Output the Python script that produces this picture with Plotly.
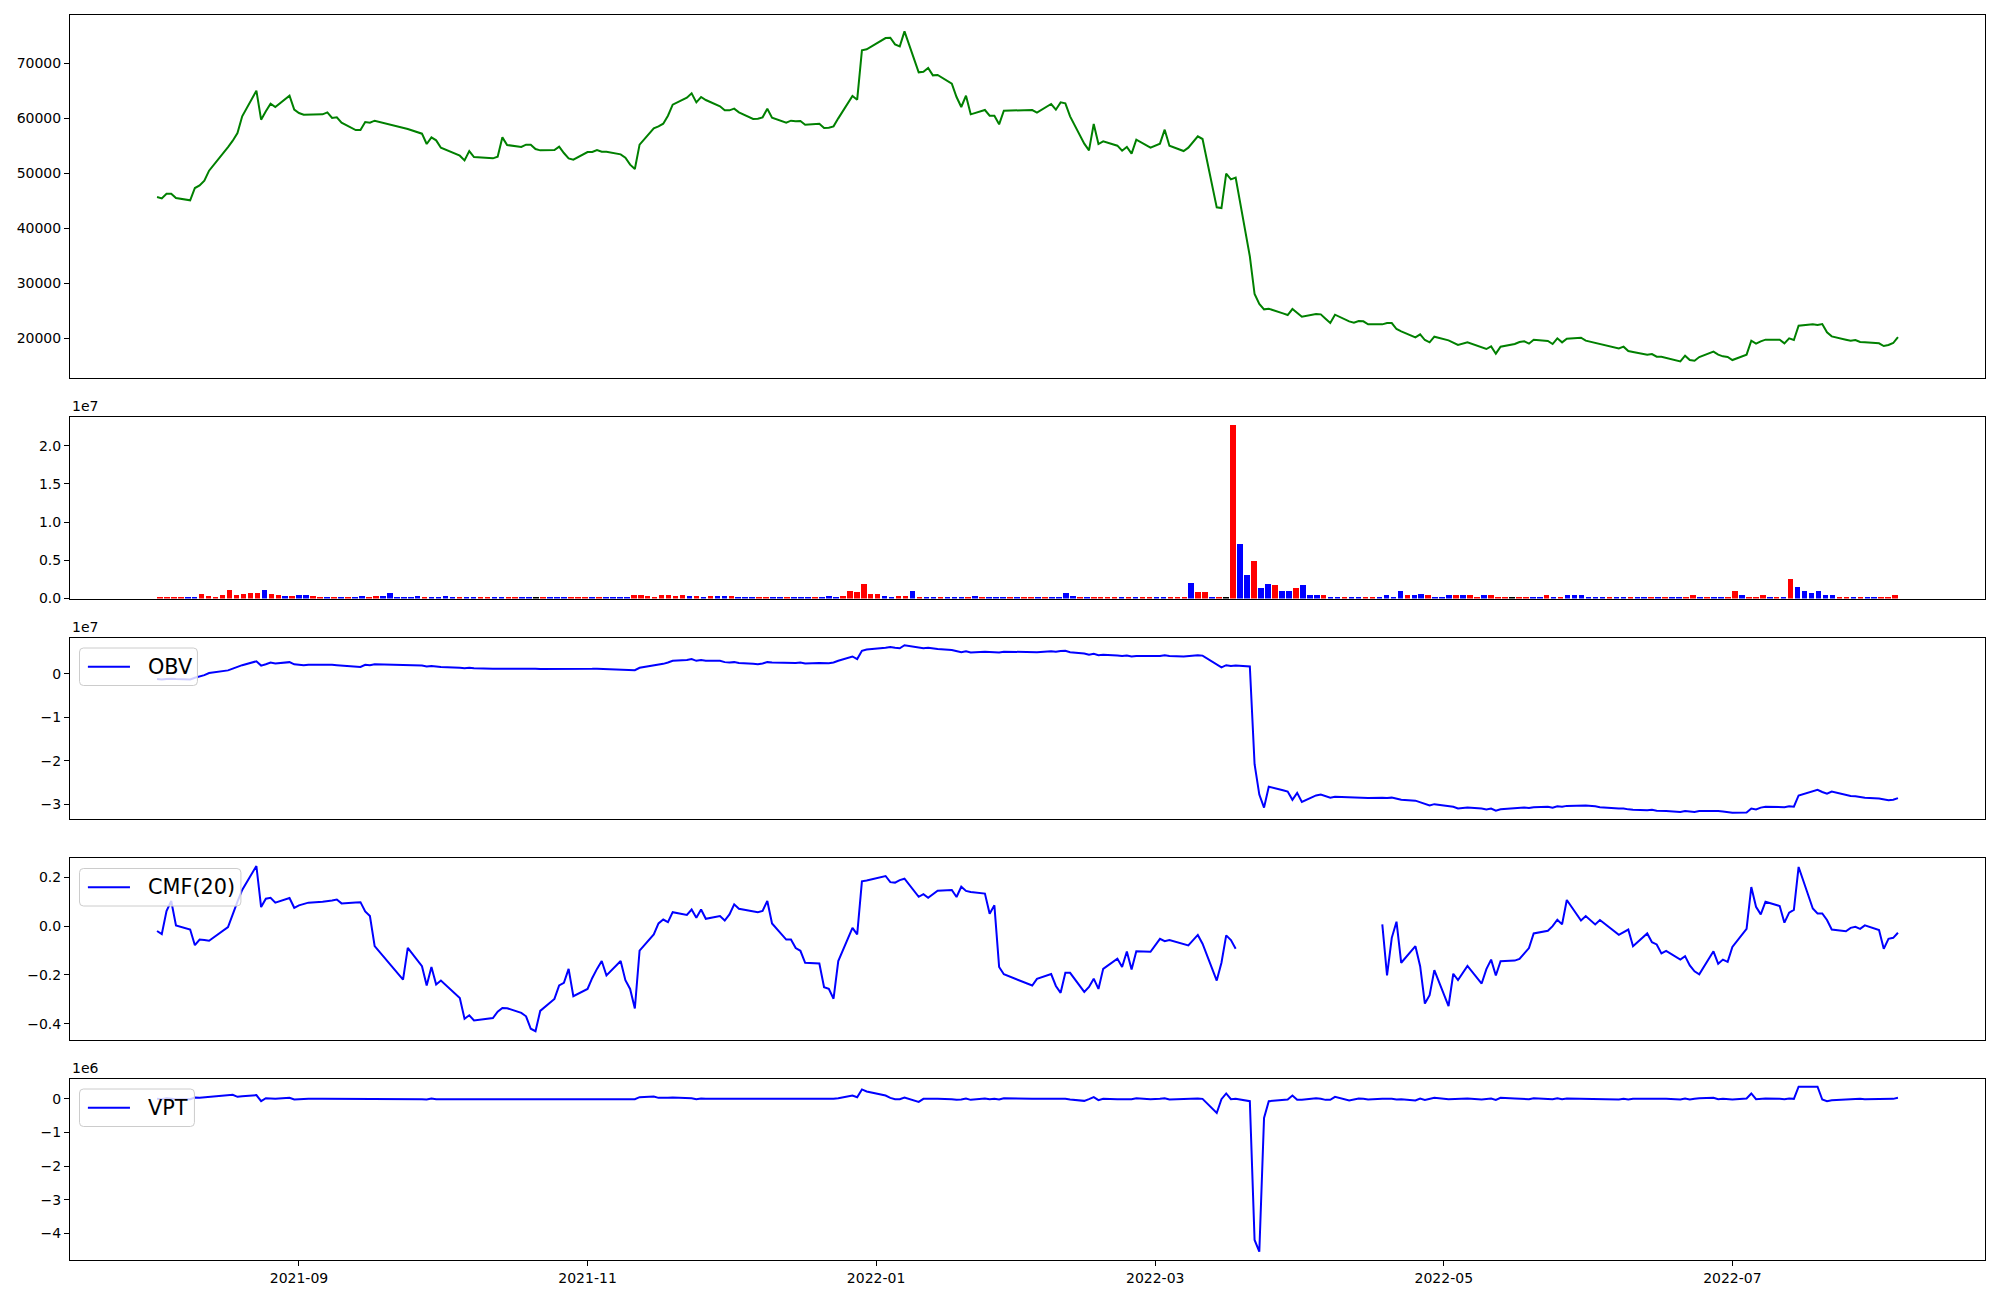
import pandas as pd
import plotly.graph_objects as go

# ---------------- data ----------------
holidays = ['2021-08-16', '2021-09-20', '2021-09-21', '2021-09-22', '2021-10-04', '2021-10-11',
            '2021-12-31', '2022-01-31', '2022-02-01', '2022-02-02', '2022-03-01', '2022-03-09',
            '2022-05-05', '2022-06-01', '2022-06-06']
dates = [d.strftime('%Y-%m-%d') for d in pd.bdate_range('2021-08-02', '2022-08-05')
         if d.strftime('%Y-%m-%d') not in holidays]

close = [
    45636, 45394, 46242, 46242, 45455, 45030, 47273, 47758, 48606, 50424, 54727, 55879, 57273, 60303, 64970, 59697, 61212, 62606, 62000, 64061, 61515,
    60909, 60606, 60606, 60667, 61030, 60000, 60121, 59152, 57818, 57818, 59273, 59152, 59515, 58242, 58000, 57152, 55273, 56485, 55939,
    54606, 53152, 52303, 54000, 52909, 52667, 52970, 56485, 55091, 54727, 55152, 55152, 54364, 54121, 54182, 54788, 53636, 52667, 52424,
    53818, 53818, 54182, 53879, 53879, 53394, 52788, 51515, 50727, 55152, 58121, 58485, 58970, 60424, 62424, 63697, 64485, 62848, 63818, 63273, 62121, 61394,
    61394, 61697, 61030, 59818, 59879, 60121, 61697, 60061, 59152, 59515, 59394, 59455, 58788, 58970, 58182, 58242, 58485, 59939, 64000, 63333, 72303, 72485,
    74545, 74606, 73394, 73030, 75758, 68303, 68424, 69091, 67758, 67818, 66242, 63818, 62000, 64061, 60667, 61455, 60424, 60424, 58848, 61333,
    61455, 60970, 62545, 61515, 62848, 62667, 60303, 55333, 54121, 58909, 55273, 55758, 54970, 54061, 54727, 53515, 56061, 54606,
    55333, 57879, 54970, 54000, 54606, 56667, 56182, 43758, 43636, 49879, 48848, 49152, 34848, 28000, 26182, 25212, 25333, 24485, 24182, 25273, 24606,
    23879, 24364, 24303, 23515, 22727, 24242, 23030, 22788, 23091, 23030, 22485, 22485, 22727, 22727, 21636, 21212, 20121, 20667, 19636, 19212, 20242,
    19576, 19152, 18727, 19212, 18364, 18000, 18485, 17152, 18424, 18909, 19273, 19394, 18970, 19697, 19455, 18909, 19939, 19212, 19879, 20061, 19515,
    19091, 18848, 18121, 18424, 17636, 17455, 16970, 17091, 16606, 16606, 16364, 15758, 16788, 16000, 15879, 16545, 17515, 16970, 16667, 16545,
    16000, 16970, 19515, 18970, 19394, 19697, 19697, 19030, 19939, 19636, 22242, 22485, 22364, 22545, 21030, 20303, 19697, 19515, 19636, 19273, 19212,
    19030, 18545, 18727, 19091, 20182,
]

# volume in millions of shares, one bar per trading day
volume_m = [
    .17, .17, .17, .17, .17, .17, .57, .30, .17, .44,
    1.09, .44, .57, .70, .70, 1.09, .57, .44, .30, .30,
    .44, .44, .30, .17, .17, .17, .17, .17, .17, .30,
    .17, .30, .30, .70, .17, .17, .17, .30, .17, .17,
    .17, .30, .17, .17, .17, .17, .17, .17, .17, .17,
    .17, .17, .17, .17, .17, .17, .17, .17, .17, .17,
    .17, .17, .17, .17, .17, .17, .17, .17, .44, .44,
    .30, .17, .44, .44, .30, .44, .30, .30, .17, .30,
    .30, .30, .30, .17, .26, .13, .13, .26, .13, .13,
    .13, .26, .13, .26, .26, .13, .39, .26, .39, .96,
    .83, 1.87, .57, .57, .39, .26, .39, .39, .96, .26,
    .26, .26, .13, .26, .26, .26, .13, .39, .26, .13,
    .13, .26, .13, .26, .13, .13, .13, .13, .26, .13,
    .70, .39, .26, .26, .13, .13, .13, .13, .26, .13,
    .13, .13, .13, .26, .13, .13, .26, .13, 2.0, .83,
    .83, .26, .26, .26, 22.66, 7.10, 3.05, 4.88, 1.35, 1.87,
    1.74, .96, .96, 1.35, 1.74, .44, .44, .44, .26, .26,
    .13, .13, .13, .13, .13, .13, .44, .13, .96, .44,
    .44, .57, .44, .26, .26, .44, .44, .44, .44, .26,
    .44, .44, .26, .13, .13, .26, .26, .26, .13, .44,
    .26, .26, .44, .44, .44, .13, .26, .13, .26, .13,
    .26, .26, .26, .13, .13, .26, .26, .13, .26, .13,
    .44, .13, .13, .13, .13, .26, .96, .44, .26, .13,
    .44, .26, .26, .13, 2.53, 1.48, .96, .70, .96, .44,
    .44, .26, .26, .26, .26, .26, .26, .13, .13, .44,
]

# bar colour per day: r = up candle, b = down candle, k = unchanged
bar_dir = ("rrrrbbrrrr" "rrrrrbrrbr" "bbrrbrbrbb" "rrbbbbbbrb" "bbbrbbrrbb"
           "rrbbkrbbbr" "rrbrbbbbrr" "rrrrrrbrbr" "bbrbbbrrbb" "rbbbrbbbrr"
           "rrrrbbrrbr" "bbrbbbrbrb" "bbrbrrbrbb" "bbrbrrrrbr" "brrbbrrrbr"
           "rbrkrbbrbb" "rbbrbbbrbb" "rbbrrbbbbr" "bbrbbbrbrr" "brrrkrrbbr"
           "brbbbbbbrb" "brbbrbrbbr" "rbrbbrrbrr" "rbrbrbbbbb" "brrbrbbrrr")

# OBV in units of 1e7
obv_e7 = [
    -0.12, -0.13, -0.12, -0.11, -0.12, -0.13, -0.09, -0.06, -0.03, 0.02, 0.08, 0.12, 0.16, 0.20, 0.29, 0.19, 0.22, 0.26, 0.24, 0.27, 0.22,
    0.21, 0.20, 0.21, 0.22, 0.22, 0.21, 0.20, 0.19, 0.17, 0.16, 0.21, 0.20, 0.22, 0.21, 0.20, 0.19, 0.17, 0.18, 0.17,
    0.16, 0.14, 0.13, 0.14, 0.13, 0.12, 0.12, 0.13, 0.12, 0.12, 0.125, 0.12, 0.115, 0.11, 0.11, 0.115, 0.11, 0.10, 0.10,
    0.11, 0.115, 0.12, 0.115, 0.11, 0.10, 0.095, 0.09, 0.085, 0.14, 0.19, 0.21, 0.23, 0.26, 0.30, 0.32, 0.34, 0.30, 0.32, 0.30, 0.30, 0.27,
    0.26, 0.27, 0.25, 0.23, 0.22, 0.24, 0.27, 0.26, 0.25, 0.26, 0.25, 0.26, 0.24, 0.25, 0.24, 0.245, 0.26, 0.30, 0.40, 0.34, 0.53, 0.56,
    0.60, 0.62, 0.60, 0.59, 0.66, 0.60, 0.59, 0.60, 0.58, 0.57, 0.55, 0.52, 0.50, 0.52, 0.49, 0.51, 0.50, 0.505, 0.49, 0.51,
    0.51, 0.50, 0.52, 0.51, 0.525, 0.53, 0.50, 0.47, 0.44, 0.46, 0.43, 0.44, 0.42, 0.41, 0.42, 0.40, 0.41, 0.40,
    0.41, 0.43, 0.41, 0.40, 0.41, 0.43, 0.42, 0.22, 0.15, 0.20, 0.18, 0.19, 0.17, -2.08, -2.78, -3.08, -2.60, -2.68, -2.71, -2.90, -2.74,
    -2.95, -2.80, -2.78, -2.82, -2.85, -2.83, -2.84, -2.86, -2.85, -2.85, -2.86, -2.85, -2.86, -2.85, -2.88, -2.90, -2.92, -2.96, -2.99, -3.03, -3.00,
    -3.04, -3.06, -3.10, -3.08, -3.10, -3.12, -3.10, -3.15, -3.12, -3.09, -3.08, -3.08, -3.09, -3.07, -3.06, -3.08, -3.05, -3.06, -3.04, -3.02, -3.03,
    -3.05, -3.07, -3.10, -3.10, -3.12, -3.13, -3.14, -3.13, -3.15, -3.15, -3.16, -3.18, -3.16, -3.17, -3.18, -3.16, -3.15, -3.16, -3.17, -3.18,
    -3.20, -3.19, -3.10, -3.12, -3.08, -3.06, -3.06, -3.07, -3.05, -3.06, -2.80, -2.71, -2.67, -2.72, -2.76, -2.71, -2.79, -2.81, -2.82, -2.84, -2.85,
    -2.87, -2.89, -2.91, -2.90, -2.86,
]

cmf20 = [
    -0.02, -0.033, 0.062, 0.103, 0.003, -0.014, -0.078, -0.055, -0.057, -0.06, -0.004, 0.05, 0.10, 0.148, 0.246, 0.078, 0.112, 0.116, 0.096, 0.115, 0.075,
    0.085, 0.09, 0.096, 0.10, 0.101, 0.105, 0.109, 0.093, 0.097, 0.098, 0.06, 0.041, -0.082, -0.219, -0.089, -0.164, -0.243, -0.167, -0.239,
    -0.223, -0.294, -0.379, -0.365, -0.386, -0.376, -0.35, -0.335, -0.336, -0.355, -0.369, -0.42, -0.43, -0.347, -0.298, -0.243, -0.232, -0.175, -0.287,
    -0.257, -0.212, -0.175, -0.143, -0.202, -0.143, -0.221, -0.257, -0.337, -0.10, -0.034, 0.011, 0.027, 0.016, 0.057, 0.046, 0.068, 0.034, 0.068, 0.030, 0.041, 0.023,
    0.048, 0.089, 0.071, 0.060, 0.057, 0.062, 0.103, 0.011, -0.055, -0.055, -0.09, -0.101, -0.15, -0.153, -0.25, -0.257, -0.297, -0.143, -0.007, -0.034, 0.183, 0.187,
    0.205, 0.18, 0.178, 0.188, 0.194, 0.12, 0.131, 0.116, 0.13, 0.145, 0.148, 0.119, 0.161, 0.144, 0.14, 0.133, 0.051, 0.085, -0.167, -0.197,
    -0.243, -0.216, -0.196, -0.245, -0.273, -0.191, -0.191, -0.269, -0.249, -0.215, -0.257, -0.175, -0.133, -0.167, -0.104, -0.178, -0.103, -0.105,
    -0.052, -0.062, -0.057, -0.075, -0.079, -0.036, -0.072, -0.223, -0.15, -0.038, -0.057, -0.093,
    None, None, None, None, None, None, None, None, None, None,
    None, None, None, None, None, None, None, None, None, None,
    0.007, -0.202, -0.048, 0.018, -0.15, -0.082, -0.164, -0.317, -0.283, -0.18,
    -0.327, -0.195, -0.221, -0.163, -0.235, -0.176, -0.137, -0.202, -0.144, -0.141, -0.134, -0.11, -0.09, -0.03, -0.019, 0.0, 0.026, 0.007, 0.107, 0.023, 0.041,
    0.007, 0.025, -0.036, -0.025, -0.014, -0.082, -0.03, -0.066, -0.075, -0.112, -0.101, -0.137, -0.123, -0.161, -0.185, -0.197, -0.103, -0.154, -0.137, -0.146,
    -0.085, -0.011, 0.16, 0.079, 0.048, 0.10, 0.082, 0.014, 0.055, 0.066, 0.242, 0.072, 0.052, 0.052, 0.025, -0.014, -0.021, -0.007, -0.003, -0.011, 0.003,
    -0.016, -0.093, -0.052, -0.048, -0.027,
]

# VPT in units of 1e6
vpt_e6 = [
    0.0, -0.01, 0.02, 0.0, -0.01, -0.01, 0.04, 0.03, 0.04, 0.06, 0.09, 0.12, 0.06, 0.08, 0.11, -0.07, 0.02, 0.02, 0.0, 0.03, -0.02,
    -0.01, 0.0, 0.0, 0.0, 0.0, -0.01, 0.0, -0.01, -0.01, 0.0, 0.01, 0.0, 0.0, -0.01, 0.0, -0.01, -0.02, 0.01, -0.01,
    -0.01, -0.01, -0.01, 0.01, -0.01, 0.0, 0.0, 0.01, 0.0, 0.0, 0.0, 0.0, 0.0, 0.0, 0.0, 0.0, 0.0, -0.01, 0.0,
    0.0, 0.0, 0.0, 0.0, 0.0, 0.0, -0.01, -0.01, -0.01, 0.05, 0.07, 0.03, 0.02, 0.03, 0.04, 0.02, 0.02, -0.01, 0.01, 0.0, 0.0, -0.01,
    0.0, 0.0, 0.0, -0.01, 0.0, 0.0, 0.01, -0.01, 0.0, 0.0, 0.0, 0.0, 0.0, 0.0, -0.01, 0.0, 0.0, 0.02, 0.10, 0.05, 0.28, 0.22,
    0.10, 0.03, -0.01, -0.01, 0.04, -0.09, 0.0, 0.0, -0.01, 0.0, -0.01, -0.03, -0.02, 0.01, -0.03, 0.01, -0.01, 0.0, -0.02, 0.02,
    0.0, 0.0, 0.01, 0.0, 0.01, 0.0, -0.02, -0.06, -0.01, 0.05, -0.04, 0.0, -0.01, -0.01, 0.0, -0.01, 0.02, -0.01,
    0.0, 0.02, -0.02, 0.0, 0.0, 0.01, 0.0, -0.42, -0.01, 0.16, -0.01, 0.0, -0.07, -4.2, -4.55, -0.57, -0.07, -0.03, -0.02, 0.1, -0.03,
    -0.03, 0.02, 0.0, -0.03, -0.03, 0.06, -0.05, -0.01, 0.01, 0.0, -0.02, 0.0, 0.01, 0.0, -0.02, -0.01, -0.05, 0.01, -0.03, -0.01, 0.03,
    -0.01, -0.01, -0.01, 0.01, -0.02, -0.01, 0.01, -0.03, 0.03, 0.01, 0.01, 0.0, -0.01, 0.02, 0.0, -0.01, 0.02, -0.01, 0.01, 0.0, -0.01,
    -0.01, 0.0, -0.02, 0.0, -0.02, 0.0, -0.01, 0.0, -0.01, 0.0, 0.0, -0.02, 0.01, -0.02, 0.0, 0.02, 0.03, -0.01, 0.0, 0.0,
    -0.02, 0.01, 0.16, -0.01, 0.01, 0.01, 0.0, -0.01, 0.01, 0.0, 0.36, 0.36, 0.36, -0.02, -0.07, -0.04, -0.02, -0.01, 0.0, 0.0, -0.01,
    0.0, 0.0, 0.0, 0.0, 0.03,
]

x_tick_dates = ['2021-09-01', '2021-11-01', '2022-01-01', '2022-03-01', '2022-05-01', '2022-07-01']
x_tick_text = ['2021-09', '2021-11', '2022-01', '2022-03', '2022-05', '2022-07']

n = len(dates)
for arr in (close, volume_m, obv_e7, cmf20, vpt_e6):
    assert len(arr) == n, (len(arr), n)
assert len(bar_dir) == n

# ---------------- layout geometry ----------------
# the page body has an 8px margin, so the figure is 8px smaller than the window
BODY = 8
W, H = 2000 - BODY, 1300 - BODY
PL, PR, PT, PB = 69.5, 1985.5, 15, 1260          # plot area in window pixels
ML, MR, MT, MB = PL - BODY, W - (PR - BODY), PT - BODY, H - (PB - BODY)
plot_w, plot_h = PR - PL, PB - PT
panels = [(15, 378), (417, 598.5), (637.5, 819), (858, 1039.5), (1078.5, 1260)]


def py2paper(py):
    return (PB - py) / plot_h


def px2paper(px):
    return (px - PL) / plot_w


def dom(top, bot):
    return [py2paper(bot), py2paper(top)]


FONT = 'DejaVu Sans'
tickfont = dict(family=FONT, size=14, color='black')

d0 = pd.Timestamp(dates[0])
d1 = pd.Timestamp(dates[-1])
pad = (d1 - d0) * 0.05
xrange_dates = [(d0 - pad).strftime('%Y-%m-%d %H:%M'), (d1 + pad).strftime('%Y-%m-%d %H:%M')]
bar_pad = (n - 1 + 0.8) * 0.05
xrange_bars = [-0.4 - bar_pad, n - 1 + 0.4 + bar_pad]

colmap = {'r': 'red', 'b': 'blue', 'k': 'black'}
bar_colors = [colmap[c] for c in bar_dir]

fig = go.Figure()
fig.add_trace(go.Scatter(x=dates, y=close, mode='lines', line=dict(color='green', width=2),
                         xaxis='x', yaxis='y', showlegend=False, name='Close'))
fig.add_trace(go.Bar(x=list(range(n)), y=[v * 1e6 for v in volume_m],
                     marker=dict(color=bar_colors, line=dict(width=0)),
                     width=0.8, xaxis='x2', yaxis='y2', showlegend=False, name='Volume'))
fig.add_trace(go.Scatter(x=dates, y=[v * 1e7 for v in obv_e7], mode='lines', line=dict(color='blue', width=2),
                         xaxis='x3', yaxis='y3', name='OBV', showlegend=False))
fig.add_trace(go.Scatter(x=dates, y=cmf20, mode='lines', line=dict(color='blue', width=2), connectgaps=False,
                         xaxis='x4', yaxis='y4', name='CMF(20)', showlegend=False))
fig.add_trace(go.Scatter(x=dates, y=[v * 1e6 for v in vpt_e6], mode='lines', line=dict(color='blue', width=2),
                         xaxis='x5', yaxis='y5', name='VPT', showlegend=False))

axis_common = dict(showline=True, linecolor='black', linewidth=1, mirror=True, showgrid=False,
                   zeroline=False, automargin=False, tickfont=tickfont)
ytick_common = dict(ticks='outside', ticklen=5, tickwidth=1, tickcolor='black')

layout = dict(
    width=W, height=H, margin=dict(l=ML, r=MR, t=MT, b=MB, pad=0),
    paper_bgcolor='white', plot_bgcolor='white',
    bargap=0, barmode='overlay', showlegend=False,
)

for i, (top, bot) in enumerate(panels, start=1):
    xa = 'xaxis' if i == 1 else f'xaxis{i}'
    ya = 'yaxis' if i == 1 else f'yaxis{i}'
    yref = 'y' if i == 1 else f'y{i}'
    xref = 'x' if i == 1 else f'x{i}'
    if i == 2:
        layout[xa] = dict(axis_common, domain=[0, 1], anchor=yref, range=xrange_bars,
                          showticklabels=False, ticks='')
    elif i == 5:
        layout[xa] = dict(axis_common, domain=[0, 1], anchor=yref, type='date', range=xrange_dates,
                          tickvals=x_tick_dates, ticktext=x_tick_text, ticks='outside', ticklen=5,
                          tickwidth=1, tickcolor='black')
    else:
        layout[xa] = dict(axis_common, domain=[0, 1], anchor=yref, type='date', range=xrange_dates,
                          showticklabels=False, ticks='')
    layout[ya] = dict(axis_common, **ytick_common, domain=dom(top, bot), anchor=xref)

layout['yaxis'].update(range=[12730, 78730], tickvals=[20000, 30000, 40000, 50000, 60000, 70000],
                       ticktext=['20000', '30000', '40000', '50000', '60000', '70000'])
layout['yaxis2'].update(range=[0, 2.375e7], tickvals=[0, 0.5e7, 1e7, 1.5e7, 2e7],
                        ticktext=['0.0', '0.5', '1.0', '1.5', '2.0'])
layout['yaxis3'].update(range=[-3.342e7, 0.837e7], tickvals=[0, -1e7, -2e7, -3e7],
                        ticktext=['0', '\u22121', '\u22122', '\u22123'])
layout['yaxis4'].update(range=[-0.464, 0.2787], tickvals=[0.2, 0.0, -0.2, -0.4],
                        ticktext=['0.2', '0.0', '\u22120.2', '\u22120.4'])
layout['yaxis5'].update(range=[-4.797e6, 0.606e6], tickvals=[0, -1e6, -2e6, -3e6, -4e6],
                        ticktext=['0', '\u22121', '\u22122', '\u22123', '\u22124'])

# ---- matplotlib-style legends (drawn boxes, sample line, real text) ----
shapes = []
annos = []
LEG_FONT = 20.8
legend_items = [('OBV', 2, 197), ('CMF(20)', 3, 240.5), ('VPT', 4, 194)]
for label, pidx, right in legend_items:
    top = panels[pidx][0] + 10.5
    bot = top + 37.5
    left = 79
    r = 4
    x0, x1 = px2paper(left), px2paper(right)
    y0, y1 = py2paper(bot), py2paper(top)
    rx, ry = r / plot_w, r / plot_h
    path = (f'M{x0 + rx},{y1} L{x1 - rx},{y1} Q{x1},{y1} {x1},{y1 - ry} '
            f'L{x1},{y0 + ry} Q{x1},{y0} {x1 - rx},{y0} L{x0 + rx},{y0} '
            f'Q{x0},{y0} {x0},{y0 + ry} L{x0},{y1 - ry} Q{x0},{y1} {x0 + rx},{y1} Z')
    shapes.append(dict(type='path', xref='paper', yref='paper', path=path,
                       fillcolor='rgba(255,255,255,0.8)', line=dict(color='#cccccc', width=1), layer='above'))
    cy = py2paper((top + bot) / 2)
    shapes.append(dict(type='line', xref='paper', yref='paper', x0=px2paper(87.4), x1=px2paper(129.5),
                       y0=cy, y1=cy, line=dict(color='blue', width=2), layer='above'))
    annos.append(dict(text=label, xref='paper', yref='paper', x=px2paper(145.5), y=cy,
                      xanchor='left', yanchor='middle', showarrow=False,
                      font=dict(family=FONT, size=LEG_FONT, color='black')))

# offset texts (scientific multipliers)
for idx, txt in ((1, '1e7'), (2, '1e7'), (4, '1e6')):
    top = panels[idx][0]
    annos.append(dict(text=txt, xref='paper', yref='paper', x=0, y=py2paper(top), xanchor='left',
                      yanchor='bottom', showarrow=False, font=dict(family=FONT, size=14, color='black'),
                      yshift=1))
layout['annotations'] = annos
layout['shapes'] = shapes

fig.update_layout(**layout)
fig.write_html('out.html')
